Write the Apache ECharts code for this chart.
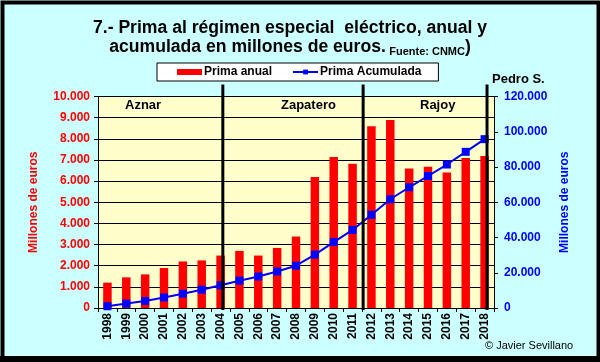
<!DOCTYPE html>
<html><head><meta charset="utf-8">
<script src="https://cdn.jsdelivr.net/npm/echarts@6/dist/echarts.min.js"></script>
<style>html,body{margin:0;padding:0;background:#fff}#c{width:600px;height:362px}</style>
</head><body><div id="c"></div>
<script>
const years = ['1998','1999','2000','2001','2002','2003','2004','2005','2006','2007','2008','2009','2010','2011','2012','2013','2014','2015','2016','2017','2018'];
const primaAnual = [1200,1450,1590,1890,2200,2250,2480,2700,2480,2840,3380,6190,7140,6825,8590,8890,6590,6680,6410,7095,7190];
const primaAcumulada = [1000,2500,4000,6000,8100,10400,12900,15500,17900,20700,24000,30300,37400,44300,52900,61700,68500,74900,81400,88600,95800];
const periodLines = [6.62, 14.06, 20.63];
const periods = ['Aznar','Zapatero','Rajoy','Pedro S.'];
const leftTicks = {min:0,max:10000,interval:1000};
const rightTicks = {min:0,max:120000,interval:20000};
const sans = "'Liberation Sans',Arial,sans-serif";
const fmt = v => String(v).replace(/\B(?=(\d{3})+(?!\d))/g,'.');

const chart = echarts.init(document.getElementById('c'), null, {renderer:'canvas'});
chart.setOption({
  backgroundColor:'#CCFFFF',
  animation:false,
  legend:{
    left:157, top:63,
    backgroundColor:'#fff', borderColor:'#000', borderWidth:1,
    padding:[3,17,3,20], itemGap:20, itemWidth:25, itemHeight:6,
    textStyle:{fontFamily:sans,fontWeight:'bold',fontSize:12,color:'#000',padding:[0,0,0,-3]},
    data:[{name:'Prima anual',icon:'rect'},{name:'Prima Acumulada'}]
  },
  grid:{left:98,right:106,top:96.5,bottom:54,show:true,backgroundColor:'#FFFFCC',borderWidth:0},
  xAxis:[{
    type:'category', data:years, boundaryGap:true,
    axisLine:{lineStyle:{color:'#000',width:1}},
    axisTick:{show:true,length:4,lineStyle:{color:'#000'}},
    axisLabel:{rotate:90,interval:0,fontFamily:sans,fontWeight:'bold',fontSize:12,color:'#000',margin:5}
  },{
    type:'value', min:0, max:21, show:false
  }],
  yAxis:[{
    type:'value', ...leftTicks, position:'left',
    name:'Millones de euros', nameLocation:'middle', nameGap:58, nameRotate:90,
    nameTextStyle:{fontFamily:sans,fontWeight:'bold',fontSize:12,color:'#FF0000'},
    axisLine:{show:true,lineStyle:{color:'#000'}},
    axisTick:{show:true,length:4,lineStyle:{color:'#000'}},
    splitLine:{show:true,lineStyle:{color:'#000',width:1}},
    axisLabel:{formatter:fmt,fontFamily:sans,fontWeight:'bold',fontSize:12,color:'#FF0000',margin:8}
  },{
    type:'value', ...rightTicks, position:'right',
    name:'Millones de euros', nameLocation:'middle', nameGap:63, nameRotate:90,
    nameTextStyle:{fontFamily:sans,fontWeight:'bold',fontSize:12,color:'#0000FF'},
    axisLine:{show:true,lineStyle:{color:'#000'}},
    axisTick:{show:true,length:4,lineStyle:{color:'#000'}},
    splitLine:{show:false},
    axisLabel:{formatter:fmt,fontFamily:sans,fontWeight:'bold',fontSize:12,color:'#0000FF',margin:10}
  }],
  series:[{
    name:'Prima anual', type:'bar', data:primaAnual, barWidth:'45%',
    itemStyle:{color:'#FF0000'}, xAxisIndex:0, yAxisIndex:0
  },{
    name:'Prima Acumulada', type:'line', data:primaAcumulada, yAxisIndex:1, xAxisIndex:0,
    symbol:'rect', symbolSize:8, lineStyle:{color:'#0000FF',width:2}, itemStyle:{color:'#0000FF'}, z:5
  },{
    type:'custom', xAxisIndex:1, yAxisIndex:1, clip:false, z:6, silent:true,
    data:periodLines.map(v=>[v]),
    renderItem:(params,api)=>{
      const top = api.coord([api.value(0),120000]);
      const bot = api.coord([api.value(0),0]);
      return {type:'line',shape:{x1:top[0],y1:top[1]-12,x2:bot[0],y2:bot[1]+2},style:{stroke:'#000',lineWidth:3}};
    }
  }],
  graphic:[
    {type:'text',x:290,y:19,style:{
      text:'{a|7.- Prima al régimen especial  eléctrico, anual y}\n{a|acumulada en millones de euros.} {b|Fuente: CNMC}{a|)}',
      align:'center', verticalAlign:'top',
      rich:{
        a:{fontFamily:sans,fontWeight:'bold',fontSize:17.6,fill:'#000',lineHeight:19},
        b:{fontFamily:sans,fontWeight:'bold',fontSize:11,fill:'#000',lineHeight:19,verticalAlign:'bottom'}
      }}},
    {type:'text',left:125,top:99,style:{text:periods[0],font:"bold 13px "+sans,fill:'#000'}},
    {type:'text',left:281,top:99,style:{text:periods[1],font:"bold 13px "+sans,fill:'#000'}},
    {type:'text',left:420,top:99,style:{text:periods[2],font:"bold 13px "+sans,fill:'#000'}},
    {type:'text',left:492,top:73,style:{text:periods[3],font:"bold 13px "+sans,fill:'#000'}},
    {type:'text',left:485,top:340,style:{text:'© Javier Sevillano',font:"11px "+sans,fill:'#000'}},
    {type:'rect',left:0,top:0,shape:{x:2,y:2,width:596,height:356},style:{fill:'none',stroke:'#000',lineWidth:4},silent:true,z:100},
    {type:'rect',left:0,top:356,shape:{x:0,y:0,width:600,height:6},style:{fill:'#000'},silent:true,z:100}
  ]
});
</script></body></html>
